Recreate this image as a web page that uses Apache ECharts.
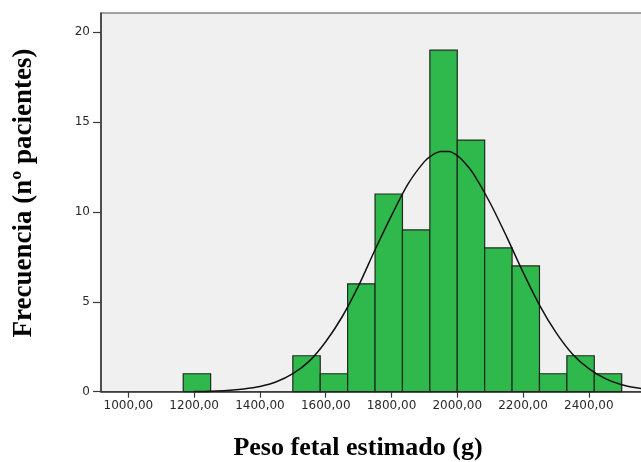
<!DOCTYPE html>
<html>
<head>
<meta charset="utf-8">
<title>Peso fetal estimado</title>
<script src="https://cdn.jsdelivr.net/npm/echarts@6/dist/echarts.min.js"></script>
<style>
  html, body { margin: 0; padding: 0; background: #ffffff; overflow: hidden; }
  #chart { width: 641px; height: 462px; }
</style>
</head>
<body>
<div id="chart"></div>
<script>
// Histogram bins (g): lower and upper edges of each bar, and patient counts
var binLower = [1166.67, 1250, 1333.33, 1416.67, 1500, 1583.33, 1666.67, 1750, 1833.33, 1916.67, 2000, 2083.33, 2166.67, 2250, 2333.33, 2416.67];
var binUpper = [1250, 1333.33, 1416.67, 1500, 1583.33, 1666.67, 1750, 1833.33, 1916.67, 2000, 2083.33, 2166.67, 2250, 2333.33, 2416.67, 2500];
var counts   = [1, 0, 0, 0, 2, 1, 6, 11, 9, 19, 14, 8, 7, 1, 2, 1];

// Fitted normal curve, sampled along the weight axis
var curveX = [1200, 1250, 1300, 1350, 1400, 1450, 1500, 1550, 1600, 1650, 1700, 1750, 1800, 1850, 1900, 1925, 1950, 1975, 2000, 2025, 2050, 2100, 2150, 2200, 2250, 2300, 2350, 2400, 2450, 2500, 2550, 2600];
var curveY = [0.01, 0.03, 0.07, 0.15, 0.29, 0.55, 1.0, 1.7, 2.78, 4.17, 5.9, 7.9, 9.8, 11.55, 12.8, 13.18, 13.37, 13.36, 13.13, 12.7, 12.1, 10.5, 8.63, 6.65, 4.82, 3.3, 2.1, 1.28, 0.73, 0.39, 0.2, 0.09];

// Axis tick labels
var xTicks = [1000, 1200, 1400, 1600, 1800, 2000, 2200, 2400];
var yTicks = [0, 5, 10, 15, 20];

var barData = binLower.map(function (lo, i) { return [lo, binUpper[i], counts[i]]; });
var curveData = curveX.map(function (x, i) { return [x, curveY[i]]; });

var chart = echarts.init(document.getElementById('chart'), null, { renderer: 'canvas' });

var labelFont = 'DejaVu Sans, Arial, sans-serif';
var titleFont = '"Liberation Serif", "Times New Roman", serif';

chart.setOption({
  animation: false,
  backgroundColor: '#ffffff',
  grid: {
    left: 101,
    top: 13,
    width: 575.5,
    height: 378.7,
    outerBoundsMode: 'none',
    containLabel: false,
    show: true,
    backgroundColor: '#f0f0f0',
    borderColor: '#4a4a4a',
    borderWidth: 1.2
  },
  xAxis: {
    type: 'value',
    min: 916.67,
    max: 2666.67,
    axisLine: { show: true, onZero: false, lineStyle: { color: '#3a3a3a', width: 1.5 } },
    axisTick: {
      show: true, length: 6, inside: false,
      customValues: xTicks,
      lineStyle: { color: '#3a3a3a', width: 1.2 }
    },
    axisLabel: {
      customValues: xTicks,
      margin: 8,
      color: '#2a2a2a',
      fontFamily: labelFont,
      fontSize: 12,
      formatter: function (v) { return v.toFixed(2).replace('.', ','); }
    },
    splitLine: { show: false }
  },
  yAxis: {
    type: 'value',
    min: 0,
    max: 21.07,
    axisLine: { show: true, lineStyle: { color: '#3a3a3a', width: 1.5 } },
    axisTick: {
      show: true, length: 8, inside: false,
      customValues: yTicks,
      lineStyle: { color: '#3a3a3a', width: 1.2 }
    },
    axisLabel: {
      customValues: yTicks,
      margin: 11,
      color: '#2a2a2a',
      fontFamily: labelFont,
      fontSize: 12
    },
    splitLine: { show: false }
  },
  graphic: [
    {
      type: 'text',
      x: 358,
      y: 448,
      style: {
        text: 'Peso fetal estimado (g)',
        font: 'bold 26px ' + titleFont,
        fill: '#000000',
        align: 'center',
        verticalAlign: 'middle'
      }
    },
    {
      type: 'text',
      x: 24,
      y: 193,
      rotation: Math.PI / 2,
      style: {
        text: 'Frecuencia (nº pacientes)',
        font: 'bold 27px ' + titleFont,
        fill: '#000000',
        align: 'center',
        verticalAlign: 'middle'
      }
    }
  ],
  series: [
    {
      type: 'custom',
      data: barData,
      encode: { x: [0, 1], y: 2 },
      renderItem: function (params, api) {
        var count = api.value(2);
        if (!count) { return null; }
        var topLeft = api.coord([api.value(0), count]);
        var bottomRight = api.coord([api.value(1), 0]);
        return {
          type: 'rect',
          shape: {
            x: topLeft[0],
            y: topLeft[1],
            width: bottomRight[0] - topLeft[0],
            height: bottomRight[1] - topLeft[1]
          },
          style: {
            fill: '#2fb84b',
            stroke: '#1e2a1e',
            lineWidth: 1.2
          }
        };
      },
      z: 2
    },
    {
      type: 'line',
      data: curveData,
      smooth: 0.3,
      showSymbol: false,
      symbol: 'none',
      lineStyle: { color: '#111111', width: 1.5 },
      z: 3
    }
  ]
});
</script>
</body>
</html>
